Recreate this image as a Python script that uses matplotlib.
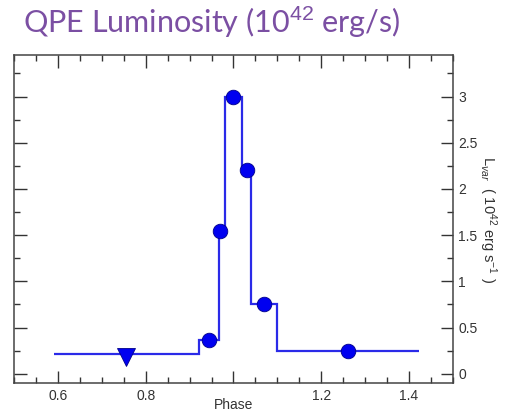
import matplotlib
matplotlib.use("Agg")
import matplotlib.pyplot as plt
from matplotlib.ticker import MultipleLocator, FixedLocator

plt.rcParams["font.family"] = ["Liberation Sans", "DejaVu Sans"]
plt.rcParams["mathtext.fontset"] = "custom"
plt.rcParams["mathtext.rm"] = "Liberation Sans"
plt.rcParams["mathtext.it"] = "Liberation Sans:italic"

# Binned light curve: bin edges in phase and luminosity per bin (1e42 erg/s)
bin_edges = [0.59, 0.922, 0.966, 0.980, 1.019, 1.041, 1.100, 1.422]
bin_lum = [0.21, 0.36, 1.55, 3.00, 2.20, 0.76, 0.25]

# Detections (circles) and the upper limit (triangle)
det_phase = [0.944, 0.969, 0.999, 1.030, 1.069, 1.261]
det_lum = [0.37, 1.54, 3.00, 2.21, 0.76, 0.25]
ul_phase = [0.755]
ul_lum = [0.185]

x_major = [0.6, 0.8, 1.0, 1.2, 1.4]
x_labels = ["0.6", "0.8", "", "1.2", "1.4"]
y_major = [0, 0.5, 1, 1.5, 2, 2.5, 3]
y_labels = ["0", "0.5", "1", "1.5", "2", "2.5", "3"]

fig = plt.figure(figsize=(5.10, 4.12), dpi=100)
ax = fig.add_axes([0.0275, 0.0704, 0.8605, 0.7961])

blue = "#0000f0"
line_blue = "#2a2ae8"

ax.stairs(bin_lum, bin_edges, color=line_blue, linewidth=1.6, baseline=None)
ax.plot(det_phase, det_lum, "o", color=blue, markersize=10.5,
        markeredgecolor="#00008a", markeredgewidth=0.6, zorder=3)
ax.plot(ul_phase, ul_lum, "v", color=blue, markersize=13,
        markeredgecolor="#00008a", markeredgewidth=0.6, zorder=3)

ax.set_xlim(0.5, 1.5)
ax.set_ylim(-0.1, 3.45)

ax.xaxis.set_major_locator(FixedLocator(x_major))
ax.set_xticklabels(x_labels)
ax.xaxis.set_minor_locator(MultipleLocator(0.05))
ax.yaxis.set_major_locator(FixedLocator(y_major))
ax.yaxis.set_minor_locator(MultipleLocator(0.25))

ax.tick_params(which="both", direction="in", top=True, bottom=True,
               left=True, right=True, labelleft=False, labelright=True,
               color="#333333", width=1.0, labelcolor="#333333")
ax.tick_params(which="major", length=9, labelsize=10, pad=4)
ax.tick_params(which="minor", length=4.5)
ax.set_yticklabels(y_labels)

for s in ax.spines.values():
    s.set_color("#444444")
    s.set_linewidth(1.1)

ax.set_xlabel("Phase", fontsize=10, labelpad=-3.5, color="#333333")
ax.yaxis.set_label_position("right")
ax.set_ylabel(r"L$_{var}$  ( 10$^{42}$ erg s$^{-1}$ )", fontsize=10.5,
              rotation=270, labelpad=15, color="#333333")

fig.text(0.045, 0.947, r"QPE Luminosity (10$^{42}$ erg/s)",
         fontsize=22, color="#7b4fa3", family=["Lato", "DejaVu Sans"],
         ha="left", va="center")

fig.savefig("out.png", dpi=100)
